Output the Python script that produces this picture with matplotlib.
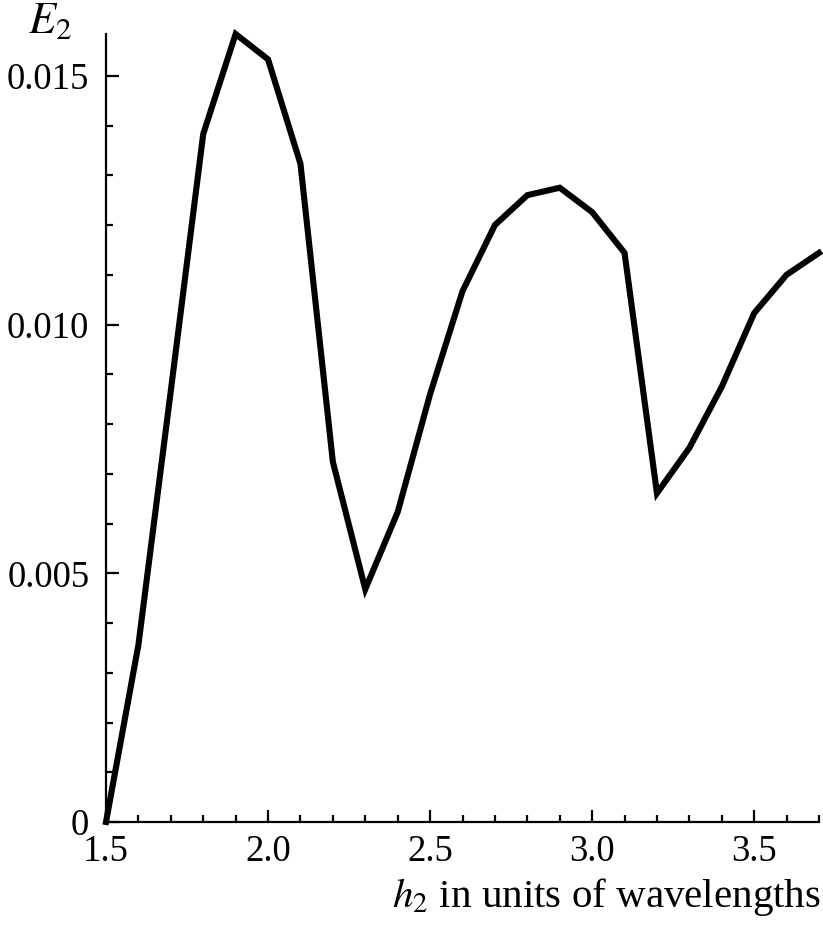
import numpy as np
import matplotlib
matplotlib.use("Agg")
import matplotlib.pyplot as plt
from matplotlib.ticker import MultipleLocator, FixedLocator

# data
h2 = [1.5, 1.6, 1.7, 1.8, 1.9, 2.0, 2.1, 2.2, 2.3, 2.4, 2.5, 2.6, 2.7,
      2.8, 2.9, 3.0, 3.1, 3.2, 3.3, 3.4, 3.5, 3.6, 3.7]
e2 = [0.0, 3.56e-3, 8.67e-3, 13.83e-3, 15.84e-3, 15.33e-3, 13.23e-3,
      7.24e-3, 4.68e-3, 6.23e-3, 8.6e-3, 10.67e-3, 12.0e-3, 12.6e-3,
      12.75e-3, 12.26e-3, 11.44e-3, 6.61e-3, 7.52e-3, 8.75e-3, 10.23e-3,
      11.0e-3, 11.44e-3]
xticks = [1.5, 2.0, 2.5, 3.0, 3.5]
xtick_labels = ["1.5", "2.0", "2.5", "3.0", "3.5"]
yticks = [0.0, 0.005, 0.010, 0.015]
ytick_labels = ["0", "0.005", "0.010", "0.015"]

plt.rcParams['font.family'] = ['Liberation Serif', 'DejaVu Serif']
plt.rcParams['mathtext.fontset'] = 'stix'

fig = plt.figure(figsize=(8.23, 9.35), dpi=100)
ax = fig.add_axes([106 / 823, 1 - 822 / 935, (819 - 106) / 823, (822 - 34) / 935])

ax.plot(h2, e2, color='black', lw=4.4, solid_joinstyle='miter', clip_on=False)

ax.set_xlim(1.5, 3.7)
ax.set_ylim(0, 0.01584)

ax.spines['top'].set_visible(False)
ax.spines['right'].set_visible(False)
for s in ['left', 'bottom']:
    ax.spines[s].set_linewidth(1.6)

ax.xaxis.set_major_locator(FixedLocator(xticks))
ax.set_xticklabels(xtick_labels)
ax.xaxis.set_minor_locator(MultipleLocator(0.1))
ax.yaxis.set_major_locator(FixedLocator(yticks))
ax.set_yticklabels(ytick_labels)
ax.yaxis.set_minor_locator(MultipleLocator(0.001))

ax.tick_params(which='both', direction='in', width=1.6, labelsize=26.5, colors='black')
ax.tick_params(which='major', length=9)
ax.tick_params(which='minor', length=5)
ax.tick_params(axis='y', pad=12)
ax.tick_params(axis='x', pad=9)

fig.text(50 / 823, 1 - 22 / 935, "$E_2$", fontsize=32, ha='center', va='center')
fig.text(821 / 823, 1 - 897 / 935, "$h_2$ in units of wavelengths",
         fontsize=29.5, ha='right', va='center')

fig.savefig("out.png", dpi=100)
